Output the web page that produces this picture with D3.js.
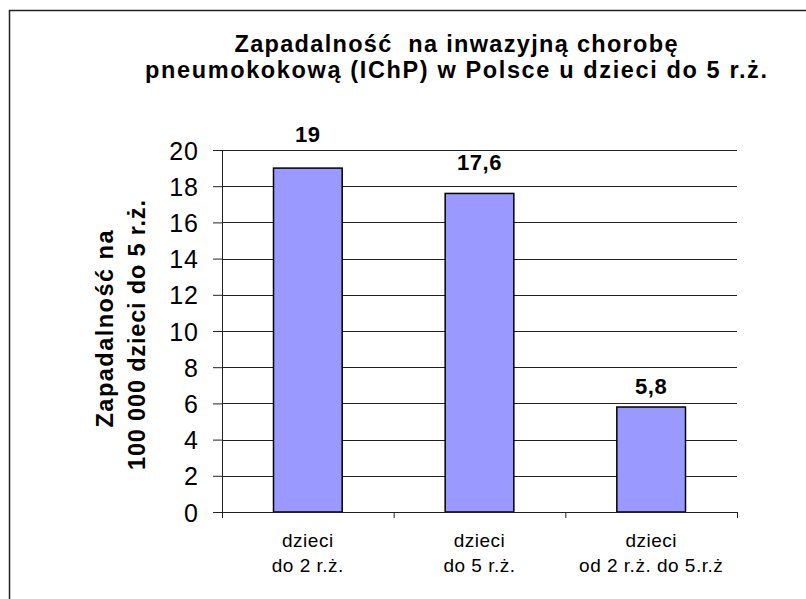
<!DOCTYPE html>
<html>
<head>
<meta charset="utf-8">
<script src="https://cdn.jsdelivr.net/npm/d3@7"></script>
<style>
  body { margin: 0; background: #fff; }
  text { font-family: Arial, "Liberation Sans", sans-serif; }
</style>
</head>
<body>
<div id="chart"></div>
<script>
// data
var categories = ["dzieci\ndo 2 r.ż.", "dzieci\ndo 5 r.ż.", "dzieci\nod 2 r.ż. do 5.r.ż"];
var values = [19, 17.6, 5.8];
var valueLabels = ["19", "17,6", "5,8"];
var yTicks = [0, 2, 4, 6, 8, 10, 12, 14, 16, 18, 20];
var titleLines = ["Zapadalność  na inwazyjną chorobę", "pneumokokową (IChP) w Polsce u dzieci do 5 r.ż."];
var yTitleLines = ["Zapadalność na", "100 000 dzieci do 5 r.ż."];

// labels were nudged by hand in the original, keep the gaps
var labelGap = [26, 23, 13.5];

var W = 806, H = 599;
var margin = {top: 150, left: 222, right: 69, bottom: 87};
var plotW = W - margin.left - margin.right,
    plotH = H - margin.top - margin.bottom;

var svg = d3.select("#chart").append("svg")
    .attr("width", W)
    .attr("height", H);

// outer frame (only top + left visible in the picture)
svg.append("rect")
    .attr("x", 9.5).attr("y", 10.5)
    .attr("width", 900).attr("height", 700)
    .attr("fill", "none")
    .attr("stroke", "#222")
    .attr("stroke-width", 1.5);

var x = d3.scaleBand()
    .domain(d3.range(categories.length))
    .range([0, plotW])
    .paddingInner(0.6)
    .paddingOuter(0.3);

var y = d3.scaleLinear()
    .domain([0, 20])
    .range([plotH, 0]);

var g = svg.append("g")
    .attr("transform", "translate(" + margin.left + "," + margin.top + ")");

// gridlines
g.append("g").selectAll("line")
    .data(yTicks.filter(function(d) { return d > 0; }))
    .enter().append("line")
    .attr("x1", 0).attr("x2", plotW)
    .attr("y1", function(d) { return Math.round(y(d)) + 0.5; })
    .attr("y2", function(d) { return Math.round(y(d)) + 0.5; })
    .attr("stroke", "#222")
    .attr("stroke-width", 1);

// bars
g.selectAll("rect.bar")
    .data(values)
    .enter().append("rect")
    .attr("class", "bar")
    .attr("x", function(d, i) { return x(i); })
    .attr("y", function(d) { return y(d); })
    .attr("width", x.bandwidth())
    .attr("height", function(d) { return plotH - y(d); })
    .attr("fill", "#9999FF")
    .attr("stroke", "#000")
    .attr("stroke-width", 1.5);

// value labels
g.selectAll("text.val")
    .data(values)
    .enter().append("text")
    .attr("class", "val")
    .attr("x", function(d, i) { return x(i) + x.bandwidth() / 2; })
    .attr("y", function(d, i) { return y(d) - labelGap[i]; })
    .attr("text-anchor", "middle")
    .attr("font-size", "22px")
    .attr("font-weight", "bold")
    .attr("letter-spacing", "0.5px")
    .text(function(d, i) { return valueLabels[i]; });

// y axis
var yAxis = g.append("g")
    .call(d3.axisLeft(y).tickValues(yTicks).tickSize(9).tickPadding(14).tickFormat(d3.format("d")));
yAxis.select(".domain").attr("stroke", "#222").attr("d", "M0.5," + plotH + "V0");
yAxis.selectAll(".tick line").attr("stroke", "#222");
yAxis.selectAll(".tick text")
    .attr("font-size", "25px")
    .attr("font-family", "Arial, 'Liberation Sans', sans-serif")
    .attr("letter-spacing", "1px")
    .attr("dy", "0.36em")
    .attr("fill", "#000");

// x axis baseline + category dividers
g.append("line")
    .attr("x1", 0).attr("x2", plotW)
    .attr("y1", plotH + 0.5).attr("y2", plotH + 0.5)
    .attr("stroke", "#222");
g.append("g").selectAll("line")
    .data(d3.range(categories.length + 1))
    .enter().append("line")
    .attr("x1", function(d) { return d * x.step() + 0.5; })
    .attr("x2", function(d) { return d * x.step() + 0.5; })
    .attr("y1", plotH).attr("y2", plotH + 6)
    .attr("stroke", "#222");

// category labels
var cat = g.selectAll("text.cat")
    .data(categories)
    .enter().append("text")
    .attr("class", "cat")
    .attr("text-anchor", "middle")
    .attr("font-size", "19px")
    .attr("letter-spacing", "0.5px")
    .attr("transform", function(d, i) {
        return "translate(" + (x(i) + x.bandwidth() / 2) + "," + (plotH + 35) + ")";
    });
cat.selectAll("tspan")
    .data(function(d) { return d.split("\n"); })
    .enter().append("tspan")
    .attr("x", 0)
    .attr("y", function(d, i) { return i * 25; })
    .text(function(d) { return d; });

// chart title
var titleWidths = [443, 622];
svg.selectAll("text.title")
    .data(titleLines)
    .enter().append("text")
    .attr("class", "title")
    .attr("x", 456)
    .attr("y", function(d, i) { return 52 + i * 26; })
    .attr("text-anchor", "middle")
    .attr("font-size", "23.5px")
    .attr("font-weight", "bold")
    .style("white-space", "pre")
    .attr("textLength", function(d, i) { return titleWidths[i]; })
    .attr("lengthAdjust", "spacing")
    .text(function(d) { return d; });

// y axis title
var yTitleWidths = [197, 270];
var yTitleX = [113, 145];
var yTitleY = [329, 335];
svg.selectAll("text.ytitle")
    .data(yTitleLines)
    .enter().append("text")
    .attr("class", "ytitle")
    .attr("transform", function(d, i) {
        return "translate(" + yTitleX[i] + "," + yTitleY[i] + ") rotate(-90)";
    })
    .attr("text-anchor", "middle")
    .attr("font-size", "23.5px")
    .attr("font-weight", "bold")
    .attr("textLength", function(d, i) { return yTitleWidths[i]; })
    .attr("lengthAdjust", "spacing")
    .text(function(d) { return d; });
</script>
</body>
</html>
